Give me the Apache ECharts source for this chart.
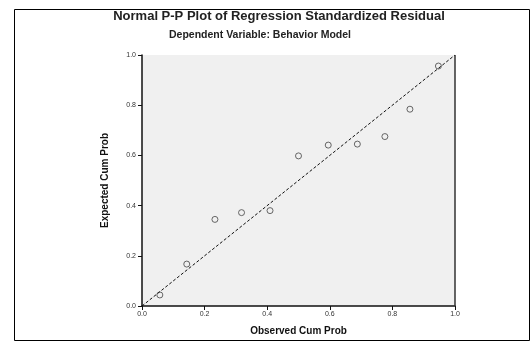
<!DOCTYPE html>
<html>
<head>
<meta charset="utf-8">
<script src="https://cdn.jsdelivr.net/npm/echarts@6/dist/echarts.min.js"></script>
<style>
  html, body { margin: 0; padding: 0; background: #fff; }
  #chart { width: 532px; height: 349px; }
</style>
</head>
<body>
<div id="chart"></div>
<script>
var titleText = 'Normal P-P Plot of Regression Standardized Residual';
var subText = 'Dependent Variable: Behavior Model';
var observed = [0.057, 0.143, 0.233, 0.318, 0.409, 0.50, 0.595, 0.688, 0.776, 0.856, 0.947];
var expected = [0.044, 0.167, 0.345, 0.372, 0.38, 0.598, 0.641, 0.645, 0.675, 0.784, 0.956];
var refLine = [[0, 0], [1, 1]];

var chart = echarts.init(document.getElementById('chart'));

var points = observed.map(function (x, i) { return [x, expected[i]]; });

var option = {
  animation: false,
  backgroundColor: '#fff',
  title: [
    {
      text: titleText,
      left: 274, top: 5, textAlign: 'center',
      textStyle: { fontFamily: 'Liberation Sans', fontSize: 13, fontWeight: 'bold', color: '#222' }
    },
    {
      text: subText,
      left: 255, top: 25, textAlign: 'center',
      textStyle: { fontFamily: 'Liberation Sans', fontSize: 10.5, fontWeight: 'bold', color: '#222' }
    }
  ],
  graphic: [
    {
      type: 'rect', left: 12, top: 7, silent: true,
      shape: { width: 515, height: 331 },
      style: { fill: 'none', stroke: '#000', lineWidth: 1 }
    }
  ],
  grid: { left: 142, top: 55, width: 313, height: 251, show: true,
          backgroundColor: '#f0f0f0', borderColor: '#555', borderWidth: 0 },
  xAxis: {
    type: 'value', min: 0, max: 1, interval: 0.2,
    name: 'Observed Cum Prob', nameLocation: 'middle', nameGap: 20,
    nameTextStyle: { fontFamily: 'Liberation Sans', fontSize: 10, fontWeight: 'bold', color: '#111' },
    axisLine: { lineStyle: { color: '#111', width: 1.5 } },
    axisTick: { show: true, length: 4, lineStyle: { color: '#111' } },
    axisLabel: { fontFamily: 'Liberation Sans', fontSize: 7, color: '#333', margin: 5,
                 formatter: function (v) { return v.toFixed(1); } },
    splitLine: { show: false }
  },
  yAxis: {
    type: 'value', min: 0, max: 1, interval: 0.2,
    name: 'Expected Cum Prob', nameLocation: 'middle', nameGap: 32,
    nameTextStyle: { fontFamily: 'Liberation Sans', fontSize: 10, fontWeight: 'bold', color: '#111' },
    axisLine: { lineStyle: { color: '#111', width: 1.5 } },
    axisTick: { show: true, length: 4, lineStyle: { color: '#111' } },
    axisLabel: { fontFamily: 'Liberation Sans', fontSize: 7, color: '#333', margin: 6,
                 formatter: function (v) { return v.toFixed(1); } },
    splitLine: { show: false }
  },
  series: [
    {
      type: 'line', data: refLine, symbol: 'none', silent: true,
      lineStyle: { color: '#111', width: 1, type: [3, 2] }
    },
    {
      type: 'scatter', data: points, symbol: 'circle', symbolSize: 6,
      itemStyle: { color: 'rgba(0,0,0,0)', borderColor: '#444', borderWidth: 1 }
    },
    {
      // right frame line of the plot area
      type: 'line', data: [[1, 0], [1, 1]], symbol: 'none', silent: true,
      lineStyle: { color: '#333', width: 1.5 }
    }
  ]
};

chart.setOption(option);
</script>
</body>
</html>
